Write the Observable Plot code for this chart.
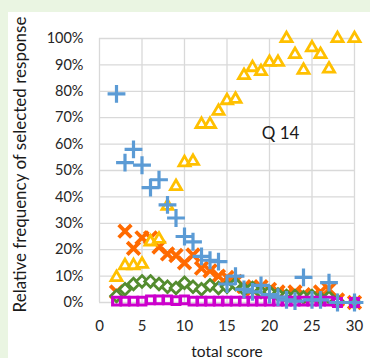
<!DOCTYPE html>
<html>
<head>
<meta charset="utf-8">
<script src="https://cdn.jsdelivr.net/npm/d3@7"></script>
<script src="https://cdn.jsdelivr.net/npm/@observablehq/plot@0.6"></script>
<style>
  html, body { margin: 0; padding: 0; background: #eaf5e2; width: 370px; height: 358px; overflow: hidden; }
  #chart { position: absolute; left: 8px; top: 12px; width: 362px; height: 346px; background: #ffffff; }
  #chart svg { font-family: Lato, "Open Sans", sans-serif; overflow: visible; }
</style>
</head>
<body>
<div id="chart"></div>
<script>
// total score values (no respondents at 29)
const scores = [2,3,4,5,6,7,8,9,10,11,12,13,14,15,16,17,18,19,20,21,22,23,24,25,26,27,28,30];
// relative frequency (%) of each response option
const optTriangle = [9.5,14,14,14.5,23,24,36.5,44,53,53.5,67.5,67.5,72.5,76.5,77,86,89,87.5,91,91,100,94,88,96.5,94,88.5,100,100];
const optPlus     = [79,53,58,52,43.5,46.5,37,32,25,23,17.5,16,15.5,7,10,5,4,6.5,3,2,1,0.5,9.5,1,1,7.5,0,0];
const optCross    = [4,27,20.5,24.5,24.5,21,18.4,17.8,15,18,13,12,10,9.5,8,6,5,6,5,4,3,4,3,2,4,5,1,0];
const optDiamond  = [2.5,5,7,8,8,7,6,5.5,7.5,6,5,6.5,5.5,6,7,5,5.5,4,4,3,2.5,2.5,2,2.5,1.5,2,0.5,0];
const optSquare   = [0.5,0.5,0.5,0.5,1,1,1,0.7,1,0.5,0.5,0.5,0.5,0.5,0.5,0.5,0.5,0.5,0.5,0.5,0.5,0.5,0.5,0.5,0.5,0.5,0,0];
const xTicks = [0,5,10,15,20,25,30];
const yTicks = [0,10,20,30,40,50,60,70,80,90,100];
const xTitle = "total score";
const yTitle = "Relative frequency of selected response";
const annotation = [{x: 21.3, y: 64, text: "Q 14"}];

const rows = arr => scores.map((s, i) => ({score: s, value: arr[i]}));

const chart = Plot.plot({
  width: 362,
  height: 346,
  marginLeft: 91,
  marginRight: 16,
  marginTop: 26,
  marginBottom: 56,
  style: {background: "transparent", color: "#404040"},
  x: {domain: [0, 30]},
  y: {domain: [0, 100]},
  marks: [
    Plot.gridX(xTicks, {stroke: "#d9d9d9", strokeOpacity: 1, strokeWidth: 1.3}),
    Plot.gridY(yTicks, {stroke: "#d9d9d9", strokeOpacity: 1, strokeWidth: 1.3}),
    Plot.axisX({ticks: xTicks, tickSize: 0, tickPadding: 18, fontSize: 15, label: null, color: "#262626"}),
    Plot.axisY({ticks: yTicks, tickSize: 0, tickPadding: 16, fontSize: 14.5, tickFormat: d => d + "%", label: null, color: "#262626"}),
    Plot.text([xTitle], {frameAnchor: "bottom", dy: 54, fontSize: 15.5, fill: "#1a1a1a"}),
    Plot.text([yTitle], {frameAnchor: "left", textAnchor: "middle", rotate: -90, dx: -79, dy: -6, fontSize: 17, fill: "#1a1a1a"}),
    Plot.dot(rows(optCross), {x: "score", y: "value", symbol: "times", r: 5.8, stroke: "#ff6a00", strokeWidth: 3.8}),
    Plot.dot(rows(optDiamond), {x: "score", y: "value", symbol: "diamond2", r: 5.2, stroke: "#548c2f", fill: "white", strokeWidth: 2.8}),
    Plot.dot(rows(optSquare), {x: "score", y: "value", symbol: "square2", r: 5, stroke: "#cc00cc", fill: "none", strokeWidth: 3}),
    Plot.dot(rows(optTriangle), {x: "score", y: "value", symbol: "triangle2", r: 5.3, stroke: "#ffc000", fill: "white", strokeWidth: 2.8}),
    Plot.dot(rows(optPlus), {x: "score", y: "value", symbol: "plus", r: 5.8, stroke: "#5b9bd5", strokeWidth: 3.2}),
    Plot.text(annotation, {x: "x", y: "y", text: "text", fontSize: 17, fill: "#1a1a1a"})
  ]
});
document.getElementById("chart").appendChild(chart);
</script>
</body>
</html>
